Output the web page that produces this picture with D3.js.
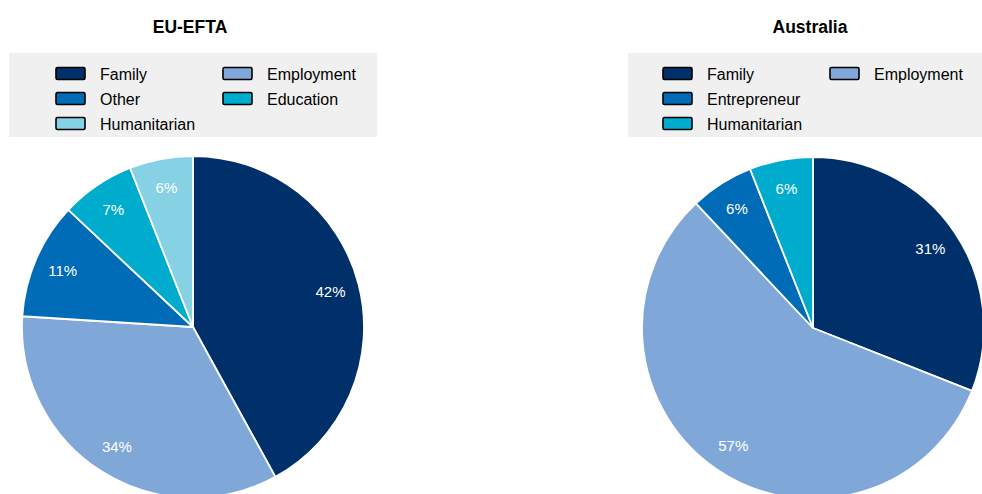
<!DOCTYPE html>
<html>
<head>
<meta charset="utf-8">
<script src="https://cdn.jsdelivr.net/npm/d3@7"></script>
<style>
  html, body { margin: 0; padding: 0; background: #fff; }
  svg { display: block; font-family: "Liberation Sans", Arial, sans-serif; }
</style>
</head>
<body>
<svg id="chart" width="982" height="494"></svg>
<script>
// Data
const euTitle = "EU-EFTA";
const euCategories = ["Family", "Employment", "Other", "Education", "Humanitarian"];
const euValues = [42, 34, 11, 7, 6];
const euLegendOrder = ["Family", "Employment", "Other", "Education", "Humanitarian"];

const auTitle = "Australia";
const auCategories = ["Family", "Employment", "Entrepreneur", "Humanitarian"];
const auValues = [31, 57, 6, 6];
const auLegendOrder = ["Family", "Employment", "Entrepreneur", "Humanitarian"];

const euColors = {
  Family: "#003069", Employment: "#7FA8D9", Other: "#006BB6",
  Education: "#00ACCD", Humanitarian: "#86D1E4"
};
const auColors = {
  Family: "#003069", Employment: "#7FA8D9", Entrepreneur: "#006BB6",
  Humanitarian: "#00ACCD"
};

const svg = d3.select("#chart");

function drawPanel(cfg) {
  const g = svg.append("g");
  // title
  g.append("text")
    .attr("x", cfg.titleX).attr("y", 32.5)
    .attr("text-anchor", "middle")
    .attr("font-size", "17.5px").attr("font-weight", "bold")
    .attr("fill", "#000")
    .text(cfg.title);

  // legend box
  g.append("rect")
    .attr("x", cfg.legX).attr("y", 53)
    .attr("width", cfg.legW).attr("height", 84)
    .attr("fill", "#F0F0F0");

  const rowY = [73.5, 98.5, 123.5];
  // legend items laid out row by row in 2 columns
  cfg.legendOrder.forEach((name, i) => {
    let col, row;
    if (cfg.layout) { col = cfg.layout[i][0]; row = cfg.layout[i][1]; }
    else { col = i % 2; row = Math.floor(i / 2); }
    const sx = cfg.colX[col];
    const cy = rowY[row];
    g.append("rect")
      .attr("x", sx).attr("y", cy - 6)
      .attr("width", 29).attr("height", 12)
      .attr("rx", 1.5)
      .attr("fill", cfg.colors[name])
      .attr("stroke", "#000").attr("stroke-width", 1.6);
    g.append("text")
      .attr("x", sx + 44).attr("y", cy + 6)
      .attr("font-size", "16px").attr("fill", "#000")
      .text(name);
  });

  // pie
  const data = cfg.categories.map((c, i) => ({ name: c, value: cfg.values[i] }));
  const pie = d3.pie().value(d => d.value).sort(null);
  const R = 171;
  const arc = d3.arc().innerRadius(0).outerRadius(R);
  const labelArc = d3.arc().innerRadius(R * 0.83).outerRadius(R * 0.83);
  const pg = g.append("g").attr("transform", `translate(${cfg.cx},${cfg.cy})`);
  const arcs = pie(data);
  pg.selectAll("path").data(arcs).join("path")
    .attr("d", arc)
    .attr("fill", d => cfg.colors[d.data.name])
    .attr("stroke", "#fff").attr("stroke-width", 1.8)
    .attr("stroke-linejoin", "round");
  pg.selectAll("text").data(arcs).join("text")
    .attr("transform", d => `translate(${labelArc.centroid(d)})`)
    .attr("text-anchor", "middle")
    .attr("dy", "0.36em")
    .attr("font-size", "15px")
    .attr("fill", "#fff")
    .text(d => d3.format(".0f")(d.data.value) + "%");
}

drawPanel({
  title: euTitle, titleX: 190,
  legX: 9, legW: 368, colX: [56, 223],
  legendOrder: euLegendOrder,
  layout: [[0,0],[1,0],[0,1],[1,1],[0,2]],
  categories: euCategories, values: euValues, colors: euColors,
  cx: 193, cy: 327
});

drawPanel({
  title: auTitle, titleX: 810,
  legX: 628, legW: 354, colX: [663, 830],
  legendOrder: auLegendOrder,
  layout: [[0,0],[1,0],[0,1],[0,2]],
  categories: auCategories, values: auValues, colors: auColors,
  cx: 813, cy: 328
});
</script>
</body>
</html>
